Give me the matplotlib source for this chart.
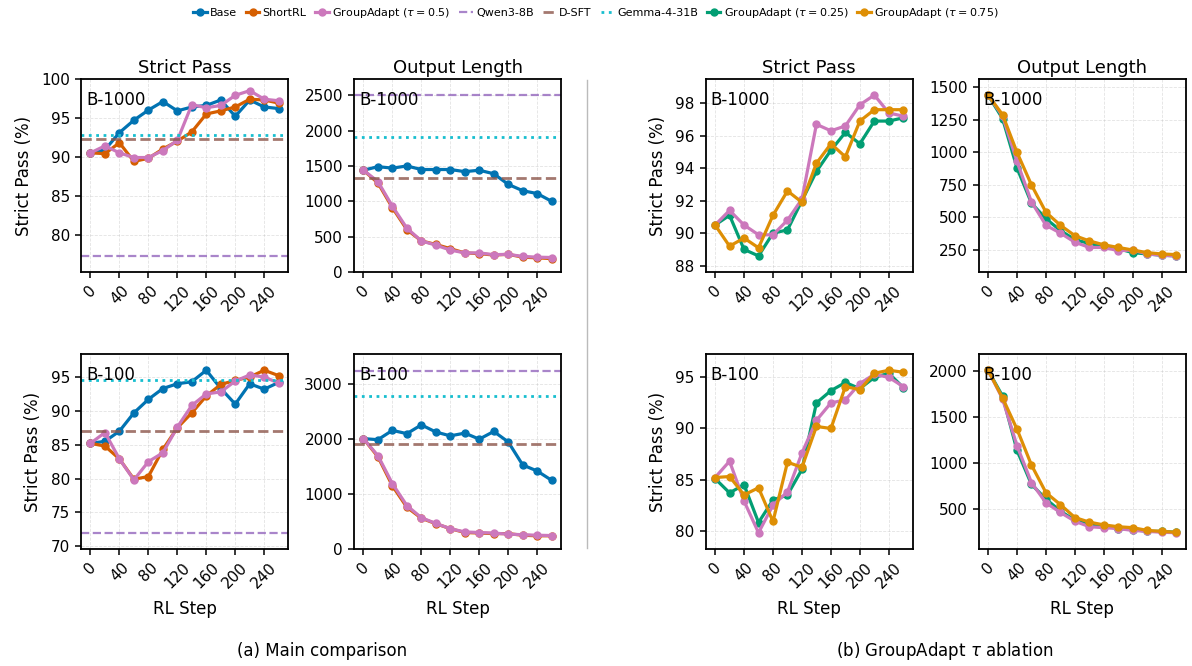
import matplotlib.pyplot as plt
from matplotlib.lines import Line2D
from matplotlib.ticker import MultipleLocator

# RL steps
steps = [0, 20, 40, 60, 80, 100, 120, 140, 160, 180, 200, 220, 240, 260]
xticks = [0, 40, 80, 120, 160, 200, 240]

# --- B-1000: strict pass (%)
sp1000_base = [90.5, 90.9, 93.1, 94.7, 96.0, 97.1, 95.9, 96.4, 96.6, 97.3, 95.2, 97.3, 96.4, 96.2]
sp1000_short = [90.5, 90.4, 91.8, 89.4, 89.8, 91.0, 92.0, 93.2, 95.5, 95.9, 96.4, 97.4, 97.3, 96.9]
sp1000_ga05 = [90.5, 91.4, 90.5, 89.9, 89.9, 90.8, 92.1, 96.7, 96.3, 96.6, 97.9, 98.5, 97.4, 97.2]
sp1000_ga025 = [90.5, 91.1, 89.0, 88.6, 90.0, 90.2, 92.0, 93.8, 95.1, 96.2, 95.5, 96.9, 96.9, 97.1]
sp1000_ga075 = [90.5, 89.2, 89.7, 89.1, 91.1, 92.6, 91.9, 94.3, 95.5, 94.7, 96.9, 97.6, 97.6, 97.6]
sp1000_refs = [77.3, 92.3, 92.8]  # Qwen3-8B, D-SFT, Gemma-4-31B

# --- B-1000: output length (tokens)
ol1000_base = [1440, 1490, 1470, 1500, 1450, 1450, 1450, 1420, 1440, 1390, 1240, 1150, 1110, 1000]
ol1000_short = [1440, 1260, 910, 600, 440, 390, 330, 270, 260, 240, 250, 210, 200, 190]
ol1000_ga05 = [1440, 1280, 930, 620, 440, 380, 310, 270, 270, 245, 250, 220, 210, 205]
ol1000_ga025 = [1440, 1260, 880, 610, 490, 400, 330, 300, 280, 260, 230, 220, 210, 205]
ol1000_ga075 = [1440, 1290, 1000, 750, 540, 440, 360, 320, 290, 270, 250, 230, 220, 215]
ol1000_refs = [2500, 1330, 1910]

# --- B-100: strict pass (%)
sp100_base = [85.2, 85.5, 87.0, 89.7, 91.7, 93.3, 94.0, 94.3, 96.0, 93.3, 91.0, 94.0, 93.2, 94.2]
sp100_short = [85.2, 84.8, 82.9, 79.9, 80.3, 84.3, 87.5, 89.7, 92.2, 93.9, 94.5, 95.0, 96.0, 95.2]
sp100_ga05 = [85.2, 86.8, 82.9, 79.8, 82.5, 83.8, 87.6, 90.8, 92.5, 92.8, 94.4, 95.3, 95.0, 94.1]
sp100_ga025 = [85.1, 83.7, 84.5, 80.8, 83.0, 83.5, 86.0, 92.5, 93.7, 94.5, 93.9, 95.0, 95.4, 94.0]
sp100_ga075 = [85.2, 85.3, 83.5, 84.2, 80.9, 86.7, 86.2, 90.2, 90.0, 94.1, 93.8, 95.4, 95.7, 95.5]
sp100_refs = [72.0, 87.0, 94.5]

# --- B-100: output length (tokens)
ol100_base = [2010, 1990, 2160, 2100, 2260, 2130, 2060, 2110, 2000, 2140, 1950, 1530, 1420, 1250]
ol100_short = [2010, 1680, 1150, 760, 560, 460, 370, 300, 290, 280, 280, 250, 240, 240]
ol100_ga05 = [2010, 1700, 1190, 790, 570, 465, 370, 310, 300, 290, 270, 260, 250, 245]
ol100_ga025 = [2010, 1730, 1140, 770, 610, 480, 380, 340, 320, 290, 280, 260, 260, 250]
ol100_ga075 = [2010, 1710, 1370, 980, 680, 550, 410, 360, 330, 310, 300, 270, 260, 250]
ol100_refs = [3250, 1920, 2780]

C_BASE, C_SHORT, C_GA05 = '#0173b2', '#d55e00', '#cc78bc'
C_GA025, C_GA075 = '#029e73', '#de8f05'
REF_STYLE = [
    ('Qwen3-8B', '#9467bd', '--', 1.6, 0.8),
    ('D-SFT', '#8c564b', '--', 2.0, 0.8),
    ('Gemma-4-31B', '#17becf', ':', 2.0, 1.0),
]

plt.rcParams['font.family'] = ['DejaVu Sans']
plt.rcParams['axes.linewidth'] = 1.3
plt.rcParams['xtick.major.width'] = 1.1
plt.rcParams['ytick.major.width'] = 1.1
plt.rcParams['xtick.major.size'] = 4.5
plt.rcParams['ytick.major.size'] = 4.5

fig = plt.figure(figsize=(11.92, 6.66), dpi=100)

col_x = [0.068, 0.297, 0.592, 0.821]
w = 0.1737
rows = [(0.5916, 0.2898), (0.1757, 0.2928)]


def panel(ax, series, refs, tag, kind, ystep, ylabel=False, title=None):
    allv = []
    for lab, ys, c in series:
        ax.plot(steps, ys, color=c, lw=2.3, marker='o', ms=5, label=lab)
        allv += ys
    if refs is not None:
        for (lab, c, ls, lw, a), v in zip(REF_STYLE, refs):
            ax.axhline(v, color=c, ls=ls, lw=lw, alpha=a, label=lab)
            allv.append(v)
    lo, hi = min(allv), max(allv)
    pad = 0.1 * (hi - lo)
    if kind == 'pass':
        ax.set_ylim(lo - pad, min(100, hi + pad))
    else:
        ax.set_ylim(max(0, lo - pad), hi + pad)
    ax.yaxis.set_major_locator(MultipleLocator(ystep))
    ax.set_xticks(xticks)
    ax.set_xticklabels([str(t) for t in xticks], rotation=45)
    ax.tick_params(labelsize=11)
    ax.grid(True, ls='--', lw=0.6, alpha=0.35)
    ax.text(0.025, 0.94, tag, transform=ax.transAxes, ha='left', va='top', fontsize=12)
    if ylabel:
        ax.set_ylabel('Strict Pass (%)', fontsize=12, labelpad=6)
    if title:
        ax.set_title(title, fontsize=13, pad=4)


main = lambda b, s, g: [('Base', b, C_BASE), ('ShortRL', s, C_SHORT), (r'GroupAdapt ($\tau = 0.5$)', g, C_GA05)]
abl = lambda a, g, c: [(r'GroupAdapt ($\tau = 0.25$)', a, C_GA025), (r'GroupAdapt ($\tau = 0.5$)', g, C_GA05),
                       (r'GroupAdapt ($\tau = 0.75$)', c, C_GA075)]

axes = [[fig.add_axes([cx, rb, w, rh]) for cx in col_x] for rb, rh in rows]

panel(axes[0][0], main(sp1000_base, sp1000_short, sp1000_ga05), sp1000_refs, 'B-1000', 'pass', 5, True, 'Strict Pass')
panel(axes[0][1], main(ol1000_base, ol1000_short, ol1000_ga05), ol1000_refs, 'B-1000', 'len', 500, False, 'Output Length')
panel(axes[0][2], abl(sp1000_ga025, sp1000_ga05, sp1000_ga075), None, 'B-1000', 'pass', 2, True, 'Strict Pass')
panel(axes[0][3], abl(ol1000_ga025, ol1000_ga05, ol1000_ga075), None, 'B-1000', 'len', 250, False, 'Output Length')
panel(axes[1][0], main(sp100_base, sp100_short, sp100_ga05), sp100_refs, 'B-100', 'pass', 5, True)
panel(axes[1][1], main(ol100_base, ol100_short, ol100_ga05), ol100_refs, 'B-100', 'len', 1000, False)
panel(axes[1][2], abl(sp100_ga025, sp100_ga05, sp100_ga075), None, 'B-100', 'pass', 5, True)
panel(axes[1][3], abl(ol100_ga025, ol100_ga05, ol100_ga075), None, 'B-100', 'len', 500, False)

for ax in axes[1]:
    ax.set_xlabel('RL Step', fontsize=12, labelpad=6)

# separator between the two groups
fig.add_artist(Line2D([0.4925, 0.4925], [0.177, 0.880], color='#bbbbbb', lw=1.0))

# shared legend
h1, l1 = axes[0][1].get_legend_handles_labels()
h2, l2 = axes[0][2].get_legend_handles_labels()
handles = h1 + [h2[0], h2[2]]
labels = l1 + [l2[0], l2[2]]
fig.legend(handles, labels, loc='upper center', bbox_to_anchor=(0.5, 1.006), ncol=8, fontsize=8,
           frameon=False, handlelength=1.2, handletextpad=0.3, columnspacing=0.8)

fig.text(0.270, 0.0225, '(a) Main comparison', ha='center', va='center', fontsize=12)
fig.text(0.793, 0.0225, r'(b) GroupAdapt $\tau$ ablation', ha='center', va='center', fontsize=12)

fig.savefig('out.png', dpi=100)
